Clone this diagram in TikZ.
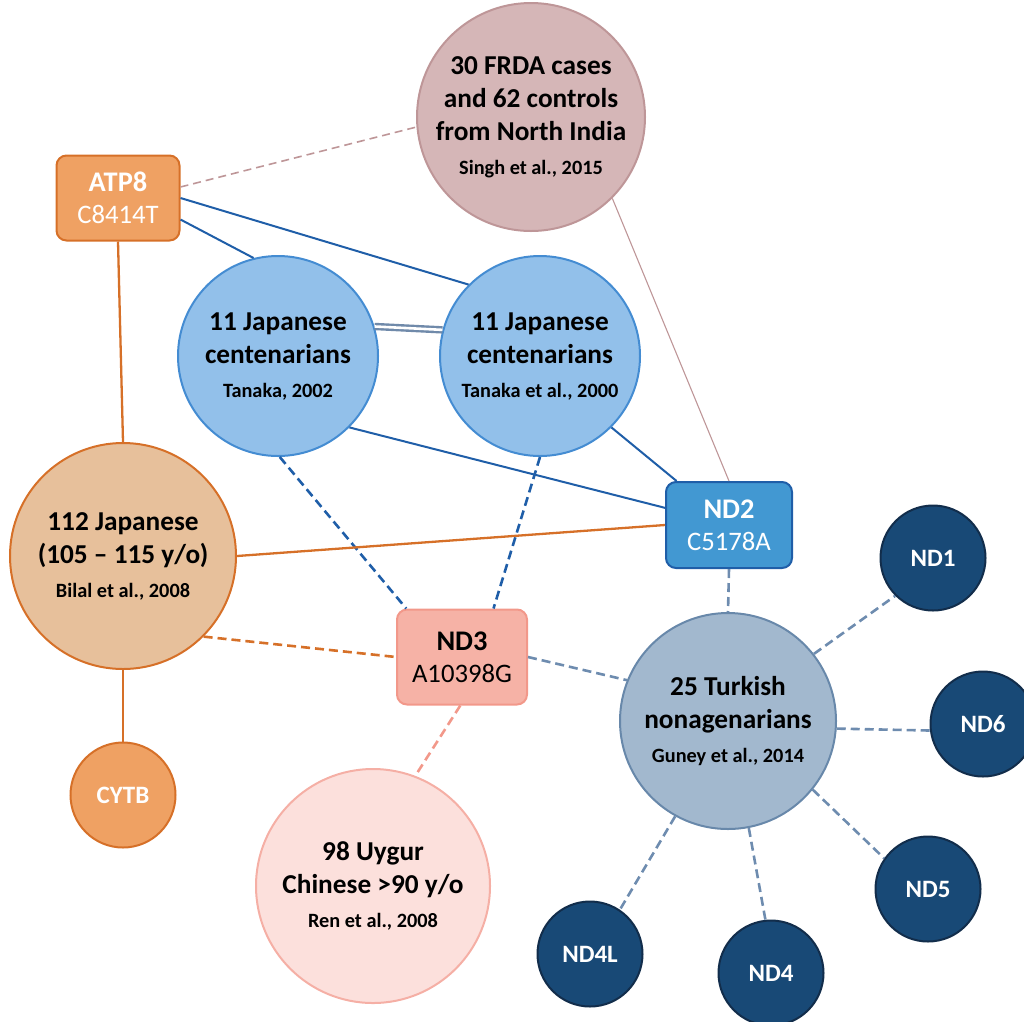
\documentclass[tikz,border=0pt]{standalone}
\usepackage{fontspec}
\setmainfont{Carlito}
\definecolor{orF}{RGB}{239,161,99}
\definecolor{orD}{RGB}{214,112,40}
\definecolor{jpF}{RGB}{231,192,155}
\definecolor{sgF}{RGB}{213,182,183}
\definecolor{sgD}{RGB}{190,150,152}
\definecolor{tbF}{RGB}{146,192,234}
\definecolor{tbD}{RGB}{68,140,210}
\definecolor{n2F}{RGB}{66,152,210}
\definecolor{blD}{RGB}{31,94,168}
\definecolor{n3F}{RGB}{246,178,166}
\definecolor{n3D}{RGB}{242,152,138}
\definecolor{tkF}{RGB}{162,184,206}
\definecolor{tkD}{RGB}{104,136,170}
\definecolor{ndF}{RGB}{24,73,118}
\definecolor{ndD}{RGB}{18,45,75}
\definecolor{ugF}{RGB}{252,224,220}
\definecolor{ugD}{RGB}{245,175,165}
\definecolor{gbL}{RGB}{110,140,175}
\definecolor{dblC}{RGB}{112,138,170}
\newcommand\mainsz{\bfseries\fontsize{27.3}{33}\selectfont}
\newcommand\citesz{\fontsize{20.3}{33}\selectfont}
\newcommand\boldlab{\bfseries\fontsize{28.4}{32}\selectfont}
\begin{document}
\begin{tikzpicture}[x=1pt,y=-1pt,
  circ/.style={circle, inner sep=0pt, line width=2pt, align=center, font=\mainsz},
  gbox/.style={rectangle, rounded corners=10pt, inner sep=0pt, line width=2pt, align=center, font=\fontsize{26.7}{32}\selectfont},
  smallc/.style={circle, inner sep=0pt, minimum size=105pt, line width=2pt, text=white, font=\bfseries\fontsize{25}{28}\selectfont},
  ndc/.style={smallc, fill=ndF, draw=ndD},
  blsolid/.style={draw=blD, line width=2pt},
  bldash/.style={draw=blD, line width=2.6pt, dash pattern=on 9pt off 5pt},
  orsolid/.style={draw=orD, line width=2.3pt},
  ordash/.style={draw=orD, line width=2.6pt, dash pattern=on 9pt off 5pt},
  pkdash/.style={draw=n3D, line width=2.6pt, dash pattern=on 9pt off 5pt},
  sgdash/.style={draw=sgD, line width=1.6pt, dash pattern=on 8pt off 5pt},
  sgline/.style={draw=sgD, line width=1.1pt},
  gbdash/.style={draw=gbL, line width=2.6pt, dash pattern=on 9pt off 5pt},
  dbl/.style={draw=dblC, line width=2.4pt, double=white, double distance=2.6pt}
]
\useasboundingbox (0,0) rectangle (1024,1021);

% nodes
\node[circ, minimum size=228pt, fill=sgF, draw=sgD] (singh) at (531,117)
  {30 FRDA cases\\and 62 controls\\from North India\\[1pt]{\citesz Singh et al., 2015}};
\node[gbox, minimum width=123pt, minimum height=85pt, fill=orF, draw=orD, text=white] (atp8) at (118,198)
  {{\boldlab ATP8}\\C8414T};
\node[circ, minimum size=200pt, fill=tbF, draw=tbD] (t2002) at (278,356)
  {11 Japanese\\centenarians\\[1pt]{\citesz Tanaka, 2002}};
\node[circ, minimum size=200pt, fill=tbF, draw=tbD] (t2000) at (540,356)
  {11 Japanese\\centenarians\\[1pt]{\citesz Tanaka et al., 2000}};
\node[circ, minimum size=226pt, fill=jpF, draw=orD] (jp112) at (123,556)
  {112 Japanese\\(105 -- 115 y/o)\\[1pt]{\citesz Bilal et al., 2008}};
\node[gbox, minimum width=126pt, minimum height=86pt, fill=n2F, draw=blD, text=white] (nd2) at (729,525)
  {{\boldlab ND2}\\C5178A};
\node[gbox, minimum width=130pt, minimum height=95pt, fill=n3F, draw=n3D, text=black] (nd3) at (462,657)
  {{\boldlab ND3}\\A10398G};
\node[circ, minimum size=216pt, fill=tkF, draw=tkD] (turk) at (728,721)
  {25 Turkish\\nonagenarians\\[1pt]{\citesz Guney et al., 2014}};
\node[circ, minimum size=234pt, fill=ugF, draw=ugD] (uygur) at (373,886)
  {98 Uygur\\Chinese >90 y/o\\[1pt]{\citesz Ren et al., 2008}};
\node[smallc, fill=orF, draw=orD] (cytb) at (123,795) {CYTB};
\node[ndc] (nd1) at (933,558) {ND1};
\node[ndc] (nd6) at (983,724) {ND6};
\node[ndc] (nd5) at (928,889) {ND5};
\node[ndc] (nd4) at (771,973) {ND4};
\node[ndc] (nd4l) at (590,954) {ND4L};

% connectors
\draw[sgdash] (atp8.10) -- (singh.185);
\draw[blsolid] (atp8.-19.5) -- (t2002.104);
\draw[blsolid] (atp8.east) -- (t2000.135);
\draw[orsolid] (atp8.south) -- (jp112.north);
\draw[dbl] (t2002.17) -- (t2000.165);
\draw[blsolid] (t2002.-45) -- (nd2.165);
\draw[blsolid] (t2000.-45) -- (nd2.140);
\draw[sgline] (singh.-45) -- (nd2.north);
\draw[bldash] (t2002.-89) -- (nd3.139);
\draw[bldash] (t2000.-90) -- (nd3.57);
\draw[orsolid] (jp112.east) -- (nd2.west);
\draw[ordash] (jp112.-45) -- (nd3.west);
\draw[pkdash] (nd3.-92) -- (uygur.69);
\draw[gbdash] (nd3.east) -- (turk.158);
\draw[gbdash] (nd2.south) -- (turk.north);
\draw[gbdash] (turk.38) -- (nd1.225);
\draw[gbdash] (turk.-4) -- (nd6.187);
\draw[gbdash] (turk.-39) -- (nd5.145);
\draw[gbdash] (turk.-79) -- (nd4.96);
\draw[gbdash] (turk.-119) -- (nd4l.56.6);
\draw[orsolid] (jp112.south) -- (cytb.north);
\end{tikzpicture}
\end{document}
